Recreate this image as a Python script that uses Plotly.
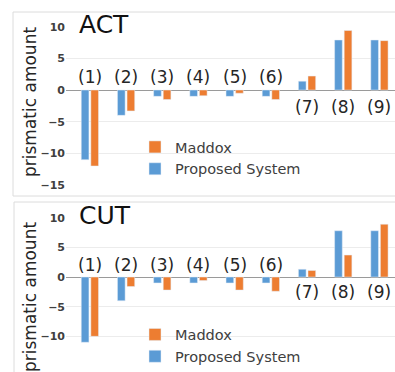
import plotly.graph_objects as go

categories = ["(1)", "(2)", "(3)", "(4)", "(5)", "(6)", "(7)", "(8)", "(9)"]
act_proposed = [-11, -4, -1, -1, -1, -1, 1.4, 7.9, 7.9]
act_maddox = [-12, -3.3, -1.5, -0.9, -0.5, -1.5, 2.2, 9.4, 7.8]
cut_proposed = [-11, -4, -1, -1, -1, -1, 1.3, 7.8, 7.8]
cut_maddox = [-10, -1.6, -2.2, -0.6, -2.2, -2.4, 1.1, 3.7, 8.9]
y_ticks = [10, 5, 0, -5, -10, -15]
panel_titles = ["ACT", "CUT"]

BLUE = "#5B9BD5"
ORANGE = "#ED7D31"
FONT = "DejaVu Sans"

fig = go.Figure()
fig.add_trace(go.Bar(x=categories, y=act_proposed, name="Proposed System", marker_color=BLUE,
                     xaxis="x", yaxis="y", legend="legend"))
fig.add_trace(go.Bar(x=categories, y=act_maddox, name="Maddox", marker_color=ORANGE,
                     xaxis="x", yaxis="y", legend="legend"))
fig.add_trace(go.Bar(x=categories, y=cut_proposed, name="Proposed System", marker_color=BLUE,
                     xaxis="x2", yaxis="y2", legend="legend2"))
fig.add_trace(go.Bar(x=categories, y=cut_maddox, name="Maddox", marker_color=ORANGE,
                     xaxis="x2", yaxis="y2", legend="legend2"))

W, H = 395, 372
xdom = [66 / W, 1.0]
ydom_top = [1 - 185 / H, 1 - 26.7 / H]
ydom_bot = [1 - 366 / H, 1 - 217.7 / H]
xr = [-0.66, 8.43]

yaxis_common = dict(range=[-15, 10], tickvals=y_ticks, showgrid=True, gridcolor="#ececec",
                    gridwidth=1, zeroline=True, zerolinecolor="#9a9a9a", zerolinewidth=1,
                    tickfont=dict(family=FONT, size=11, color="#404040", weight="bold"),
                    ticks="", showline=False, automargin=False)
xaxis_common = dict(range=xr, showticklabels=False, showgrid=False, zeroline=False,
                    showline=False, ticks="", type="category", automargin=False)

fig.update_layout(
    width=W, height=H,
    margin=dict(l=0, r=0, t=0, b=0, autoexpand=False),
    paper_bgcolor="white", plot_bgcolor="white",
    barmode="group", bargap=0.47, bargroupgap=0.2,
    font=dict(family=FONT),
    xaxis=dict(domain=xdom, anchor="y", **xaxis_common),
    xaxis2=dict(domain=xdom, anchor="y2", **xaxis_common),
    yaxis=dict(domain=ydom_top, anchor="x", **yaxis_common),
    yaxis2=dict(domain=ydom_bot, anchor="x2", **yaxis_common),
    legend=dict(x=135 / W, y=1 - 131 / H, xanchor="left", yanchor="top",
                traceorder="reversed", bgcolor="rgba(0,0,0,0)", borderwidth=0,
                font=dict(family=FONT, size=14.5, color="#404040"), itemwidth=30),
    legend2=dict(x=135 / W, y=1 - 318.5 / H, xanchor="left", yanchor="top",
                 traceorder="reversed", bgcolor="rgba(0,0,0,0)", borderwidth=0,
                 font=dict(family=FONT, size=14.5, color="#404040"), itemwidth=30),
    showlegend=True,
)

annotations = []
for xa, ya, vals_a, vals_b, title, ycen, up, down in [
    ("x", "y", act_proposed, act_maddox, panel_titles[0], 1 - 25 / H, 13, -17),
    ("x2", "y2", cut_proposed, cut_maddox, panel_titles[1], 1 - 215 / H, 12, -15),
]:
    for c, a, b in zip(categories, vals_a, vals_b):
        above = max(a, b) <= 0
        annotations.append(dict(x=c, y=0, xref=xa, yref=ya, text=c, showarrow=False,
                                yanchor="middle", xanchor="center",
                                yshift=up if above else down,
                                font=dict(family=FONT, size=17, color="#262626")))
    annotations.append(dict(x=77 / W, y=ycen, xref="paper", yref="paper", text=title,
                            showarrow=False, xanchor="left", yanchor="middle",
                            font=dict(family=FONT, size=25, color="#111111")))
annotations.append(dict(x=30 / W, y=1 - 102 / H, xref="paper", yref="paper",
                        text="prismatic amount", textangle=-90, showarrow=False,
                        xanchor="center", yanchor="middle",
                        font=dict(family=FONT, size=17, color="#262626")))
annotations.append(dict(x=30 / W, y=1 - 297 / H, xref="paper", yref="paper",
                        text="prismatic amount", textangle=-90, showarrow=False,
                        xanchor="center", yanchor="middle",
                        font=dict(family=FONT, size=17, color="#262626")))
fig.update_layout(annotations=annotations)

shapes = [
    dict(type="rect", xref="paper", yref="paper", x0=13 / W, x1=1.02, y0=1 - 196 / H, y1=1 - 12 / H,
         line=dict(color="#dcdcdc", width=1), layer="below"),
    dict(type="rect", xref="paper", yref="paper", x0=14 / W, x1=1.02, y0=-0.02, y1=1 - 202 / H,
         line=dict(color="#dcdcdc", width=1), layer="below"),
]
fig.update_layout(shapes=shapes)

fig.write_html("out.html", config={"displayModeBar": False},
               post_script="document.body.style.margin='0';document.body.style.overflow='hidden';")
